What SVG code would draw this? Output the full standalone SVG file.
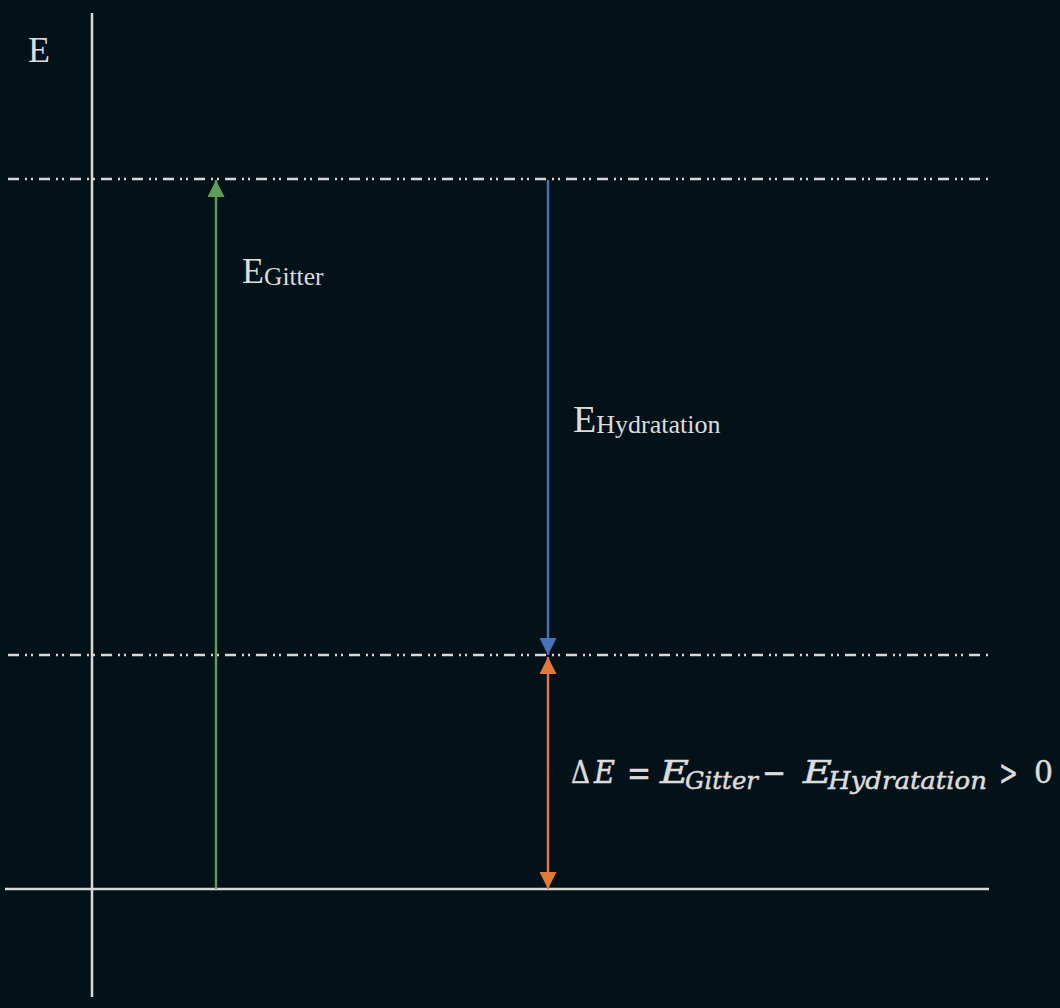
<svg xmlns="http://www.w3.org/2000/svg" width="1060" height="1008" viewBox="0 0 1060 1008">
<style>
.axis{stroke:#d8d8d8;stroke-width:2.5;fill:none}
.dash{stroke:#d8d8d8;stroke-width:2.4;fill:none;stroke-dasharray:11 6 2 4 2 6}
.lbl{font-family:"Liberation Serif","Times New Roman",serif;fill:#dcdcdc}
.math{font-family:"DejaVu Serif",serif;fill:#dcdcdc;stroke:#dcdcdc;stroke-width:0.5}
.it{font-style:italic}
</style>
<defs>
<marker id="hg" viewBox="0 0 18 18" refX="18" refY="9" markerWidth="18" markerHeight="17" markerUnits="userSpaceOnUse" orient="auto-start-reverse"><path d="M0,0 L18,9 L0,18 z" fill="#5f9e56"/></marker>
<marker id="hb" viewBox="0 0 18 18" refX="18" refY="9" markerWidth="18" markerHeight="17" markerUnits="userSpaceOnUse" orient="auto-start-reverse"><path d="M0,0 L18,9 L0,18 z" fill="#4a70b8"/></marker>
<marker id="ho" viewBox="0 0 18 18" refX="18" refY="9" markerWidth="18" markerHeight="17" markerUnits="userSpaceOnUse" orient="auto-start-reverse"><path d="M0,0 L18,9 L0,18 z" fill="#e07a3a"/></marker>
</defs>
<rect width="1060" height="1008" fill="#031219"/>
<g id="axes">
<line class="axis" x1="92" y1="13" x2="92" y2="997"/>
<line class="axis" x1="5" y1="889" x2="989" y2="889"/>
<line class="dash" x1="8" y1="179" x2="989" y2="179"/>
<line class="dash" x1="8" y1="655" x2="989" y2="655"/>
</g>
<g id="connectors">
<line x1="216" y1="889" x2="216" y2="180" stroke="#5f9e56" stroke-width="2.4" marker-end="url(#hg)"/>
<line x1="548" y1="180" x2="548" y2="655" stroke="#4a70b8" stroke-width="2.4" marker-end="url(#hb)"/>
<line x1="548" y1="657" x2="548" y2="889" stroke="#e07a3a" stroke-width="2.4" marker-start="url(#ho)" marker-end="url(#ho)"/>
</g>
<g id="label-E"><text class="lbl" x="28" y="62" font-size="36">E</text></g>
<g id="label-gitter"><text class="lbl" x="242" y="283" font-size="36">E<tspan font-size="25.5" y="285">Gitter</tspan></text></g>
<g id="label-hydratation"><text class="lbl" x="573" y="432" font-size="38">E<tspan font-size="26" y="433">Hydratation</tspan></text></g>
<g id="formula">
<text class="math" font-size="31"><tspan x="571" y="783" textLength="19" lengthAdjust="spacingAndGlyphs">Δ</tspan><tspan class="it" x="594" y="783" textLength="21" lengthAdjust="spacingAndGlyphs">E</tspan><tspan x="627" y="785" font-size="36" textLength="24" lengthAdjust="spacingAndGlyphs">=</tspan><tspan class="it" x="660" y="783" textLength="29" lengthAdjust="spacingAndGlyphs">E</tspan><tspan class="it" x="685" y="789" font-size="25" textLength="73" lengthAdjust="spacingAndGlyphs">Gitter</tspan><tspan x="762" y="785" font-size="36" textLength="24" lengthAdjust="spacingAndGlyphs">−</tspan><tspan class="it" x="803" y="783" textLength="29" lengthAdjust="spacingAndGlyphs">E</tspan><tspan class="it" x="828" y="789" font-size="25" textLength="159" lengthAdjust="spacingAndGlyphs">Hydratation</tspan><tspan x="999" y="785" font-size="36" textLength="19" lengthAdjust="spacingAndGlyphs">&gt;</tspan><tspan x="1034" y="783" textLength="19" lengthAdjust="spacingAndGlyphs">0</tspan></text>
</g>
</svg>
